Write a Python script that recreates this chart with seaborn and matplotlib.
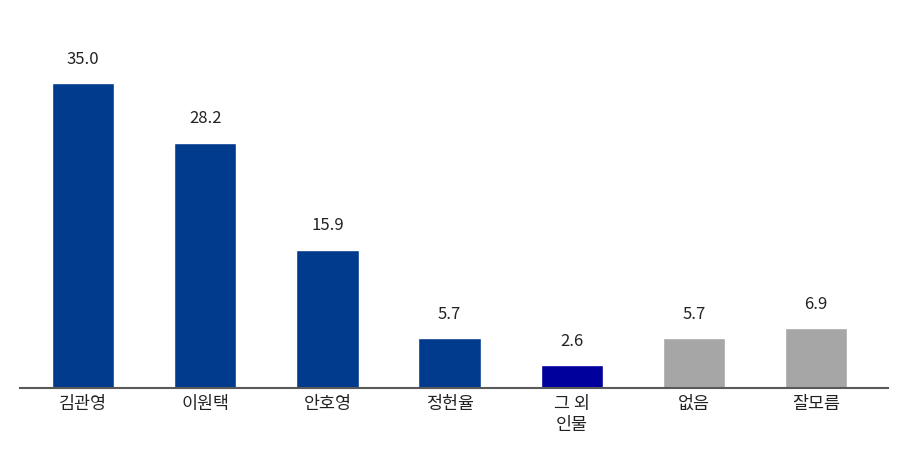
import matplotlib
matplotlib.use("Agg")
import matplotlib.pyplot as plt
import seaborn as sns
import pandas as pd

categories = ["김관영", "이원택", "안호영", "정헌율", "그 외\n인물", "없음", "잘모름"]
values = [35.0, 28.2, 15.9, 5.7, 2.6, 5.7, 6.9]
colors = ["#003B8E", "#003B8E", "#003B8E", "#003B8E", "#00009C", "#A6A6A6", "#A6A6A6"]

sns.set_theme(style="white")
plt.rcParams['font.family'] = ['Noto Sans CJK KR', 'DejaVu Sans']

df = pd.DataFrame({"cat": categories, "val": values})

fig = plt.figure(figsize=(9.02, 4.5), dpi=100)
ax = fig.add_axes([20/902, 62/450, 868/902, 348/450])
sns.barplot(data=df, x="cat", y="val", hue="cat", palette=colors, legend=False,
            width=0.51, ax=ax, saturation=1)

for i, v in enumerate(values):
    ax.annotate(f"{v:.1f}", (i, v), xytext=(0, 11), textcoords="offset points",
                ha="center", va="bottom", fontsize=12, color="#222222")

ax.set_xlim(-0.516, 6.588)
ax.set_ylim(0, 40)
ax.set_xlabel("")
ax.set_ylabel("")
ax.set_yticks([])
ax.tick_params(axis="x", length=0, pad=5, labelsize=12.5, colors="#222222")
for s in ["top", "right", "left"]:
    ax.spines[s].set_visible(False)
ax.spines["bottom"].set_color("#595959")
ax.spines["bottom"].set_linewidth(1.5)

fig.savefig("out.png", dpi=100, facecolor="white")
